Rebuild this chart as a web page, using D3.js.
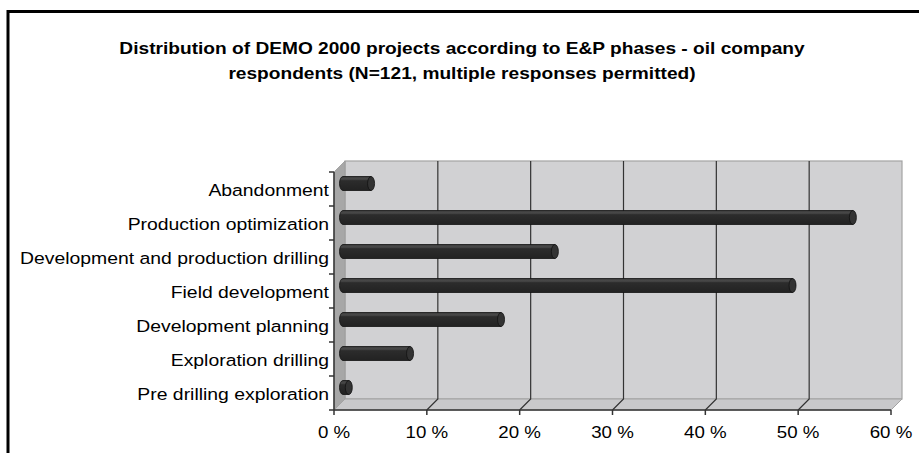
<!DOCTYPE html>
<html>
<head>
<meta charset="utf-8">
<script src="https://cdn.jsdelivr.net/npm/d3@7"></script>
<style>
  body { margin: 0; background: #fff; }
  text { font-family: "Liberation Sans", Arial, sans-serif; fill: #000; }
</style>
</head>
<body>
<div id="chart"></div>
<script>
var width = 919, height = 453;

// chart data, top category first
var categories = ["Abandonment", "Production optimization", "Development and production drilling",
    "Field development", "Development planning", "Exploration drilling", "Pre drilling exploration"];
var values = [3.4, 55.3, 23.2, 48.8, 17.4, 7.6, 1.0];
var xTicks = [0, 10, 20, 30, 40, 50, 60];
var titleLines = ["Distribution of DEMO 2000 projects according to E&P phases - oil company",
    "respondents (N=121, multiple responses permitted)"];

// front plane of the 3d box and its depth offset
var plot = {left: 334, right: 891, top: 172, bottom: 410},
    depth = 11,
    stretch = 1.14; // the original text is a little wider than Arial

var x = d3.scaleLinear()
    .domain([0, 60])
    .range([plot.left, plot.right]);

var y = d3.scaleBand()
    .domain(categories)
    .range([plot.top, plot.bottom]);

var svg = d3.select("#chart").append("svg")
    .attr("width", width)
    .attr("height", height);

var defs = svg.append("defs");
var grad = defs.append("linearGradient")
    .attr("id", "cyl")
    .attr("x1", 0).attr("y1", 0).attr("x2", 0).attr("y2", 1);
grad.append("stop").attr("offset", "0%").attr("stop-color", "#3a3a3a");
grad.append("stop").attr("offset", "18%").attr("stop-color", "#4a4a4a");
grad.append("stop").attr("offset", "30%").attr("stop-color", "#2c2c2c");
grad.append("stop").attr("offset", "100%").attr("stop-color", "#222");

function place(px, py, sx) {
    return "translate(" + px + "," + py + ") scale(" + sx + ",1)";
}

// outer frame (only left and top edges visible)
svg.append("path")
    .attr("d", "M8,453 V11.5 H919")
    .attr("fill", "none")
    .attr("stroke", "#000")
    .attr("stroke-width", 3);

// title
svg.append("g").selectAll("text")
    .data(titleLines)
    .enter().append("text")
    .attr("transform", function(d, i) { return place(462, 54 + i * 25, 1.16); })
    .attr("text-anchor", "middle")
    .style("font-weight", "bold")
    .style("font-size", "16.5px")
    .text(function(d) { return d; });

var x0 = x(0), x1 = x(60);

// back wall
svg.append("rect")
    .attr("x", x0 + depth)
    .attr("y", plot.top - depth)
    .attr("width", x1 - x0)
    .attr("height", plot.bottom - plot.top)
    .attr("fill", "#d1d1d3")
    .attr("stroke", "#a3a3a3")
    .attr("stroke-width", 1.2);

// side wall
svg.append("polygon")
    .attr("points", [[x0, plot.top], [x0 + depth, plot.top - depth],
        [x0 + depth, plot.bottom - depth], [x0, plot.bottom]].join(" "))
    .attr("fill", "#a7a7a7")
    .attr("stroke", "#999")
    .attr("stroke-width", 0.8);

// floor
svg.append("polygon")
    .attr("points", [[x0, plot.bottom], [x0 + depth, plot.bottom - depth],
        [x1 + depth, plot.bottom - depth], [x1, plot.bottom]].join(" "))
    .attr("fill", "#c9c9cb")
    .attr("stroke", "#a3a3a3")
    .attr("stroke-width", 1);

// gridlines on wall and floor
var grid = svg.append("g")
    .attr("stroke", "#333")
    .attr("stroke-width", 1.2)
    .attr("fill", "none");

grid.selectAll("path")
    .data(xTicks.slice(1, -1))
    .enter().append("path")
    .attr("d", function(d) {
        return "M" + x(d) + "," + plot.bottom +
            " L" + (x(d) + depth) + "," + (plot.bottom - depth) +
            " V" + (plot.top - depth);
    });

// axes
var axisG = svg.append("g")
    .attr("stroke", "#333")
    .attr("stroke-width", 1.5);

axisG.append("line")
    .attr("x1", x0).attr("x2", x1)
    .attr("y1", plot.bottom).attr("y2", plot.bottom);

axisG.append("line")
    .attr("x1", x0).attr("x2", x0)
    .attr("y1", plot.top).attr("y2", plot.bottom);

axisG.selectAll(".xtick")
    .data(xTicks)
    .enter().append("line")
    .attr("class", "xtick")
    .attr("x1", function(d) { return x(d); })
    .attr("x2", function(d) { return x(d); })
    .attr("y1", plot.bottom)
    .attr("y2", plot.bottom + 5);

var yEdges = categories.map(function(c) { return y(c); }).concat([plot.bottom]);
axisG.selectAll(".ytick")
    .data(yEdges)
    .enter().append("line")
    .attr("class", "ytick")
    .attr("x1", x0 - 5)
    .attr("x2", x0)
    .attr("y1", function(d) { return d; })
    .attr("y2", function(d) { return d; });

svg.append("g").selectAll("text")
    .data(xTicks)
    .enter().append("text")
    .attr("transform", function(d) { return place(x(d), 438, 1.1); })
    .attr("text-anchor", "middle")
    .style("font-size", "17px")
    .text(function(d) { return d + " %"; });

svg.append("g").selectAll("text")
    .data(categories)
    .enter().append("text")
    .attr("transform", function(d) { return place(x0 - 5, y(d) + y.bandwidth() / 2 + 6.5, stretch); })
    .attr("text-anchor", "end")
    .style("font-size", "17px")
    .text(function(d) { return d; });

// cylinder bars at mid depth
var half = depth / 2, barH = 14, capRx = 3.5;

var bars = svg.append("g").selectAll("g")
    .data(categories)
    .enter().append("g");

bars.append("path")
    .attr("d", function(d, i) {
        var cy = y(d) + y.bandwidth() / 2 - half,
            sx = x(0) + half + capRx, ex = x(values[i]) + half;
        if (ex < sx) ex = sx;
        return "M" + ex + "," + (cy - barH / 2) +
            " H" + sx +
            " A" + capRx + "," + (barH / 2) + " 0 0 0 " + sx + "," + (cy + barH / 2) +
            " H" + ex + " Z";
    })
    .attr("fill", "url(#cyl)")
    .attr("stroke", "#111")
    .attr("stroke-width", 0.8);

bars.append("ellipse")
    .attr("cx", function(d, i) { return Math.max(x(values[i]), x(0) + capRx) + half; })
    .attr("cy", function(d) { return y(d) + y.bandwidth() / 2 - half; })
    .attr("rx", capRx)
    .attr("ry", barH / 2)
    .attr("fill", "#333")
    .attr("stroke", "#111")
    .attr("stroke-width", 0.8);
</script>
</body>
</html>
